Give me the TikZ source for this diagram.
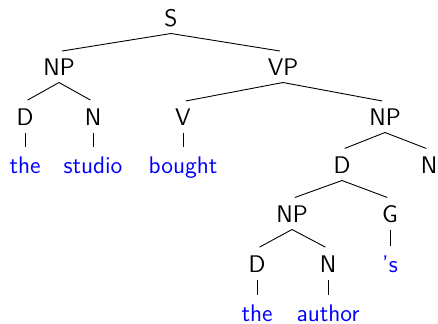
\documentclass[tikz,border=0pt]{standalone}
\begin{document}
\begin{tikzpicture}[x=0.5pt,y=-0.5pt,
  every node/.style={font=\fontsize{12}{14}\selectfont\sffamily, text height=8.3pt, text depth=0pt, inner xsep=1pt, inner ysep=3.4pt},
  cat/.style={text=black},
  word/.style={text=blue},
  edge/.style={draw=black, line width=0.45pt, shorten >=1.5pt}]
\useasboundingbox (0,0) rectangle (438,323);
% categories
\node[cat] (S) at (171,18) {S};
\node[cat] (NPa) at (59,67) {NP};
\node[cat] (VP) at (283,67) {VP};
\node[cat] (Da) at (25,117) {D};
\node[cat] (Na) at (93,117) {N};
\node[cat] (V) at (183,117) {V};
\node[cat] (NPb) at (385,117) {NP};
\node[cat] (Db) at (342,165) {D};
\node[cat] (Nb) at (429,165) {N};
\node[cat] (NPc) at (292,214) {NP};
\node[cat] (G) at (390,214) {G};
\node[cat] (Dc) at (257,264) {D};
\node[cat] (Nc) at (328,264) {N};
% words
\node[word] (the1) at (25,165) {the};
\node[word] (studio) at (93,165) {studio};
\node[word] (bought) at (183,165) {bought};
\node[word] (poss) at (390,264) {'s};
\node[word] (the2) at (257,313) {the};
\node[word] (author) at (328,313) {author};
% edges
\draw[edge] (S.south) -- (NPa.north);
\draw[edge] (S.south) -- (VP.north);
\draw[edge] (NPa.south) -- (Da.north);
\draw[edge] (NPa.south) -- (Na.north);
\draw[edge] (VP.south) -- (V.north);
\draw[edge] (VP.south) -- (NPb.north);
\draw[edge] (Da.south) -- (the1.north);
\draw[edge] (Na.south) -- (studio.north);
\draw[edge] (V.south) -- (bought.north);
\draw[edge] (NPb.south) -- (Db.north);
\draw[edge] (NPb.south) -- (Nb.north);
\draw[edge] (Db.south) -- (NPc.north);
\draw[edge] (Db.south) -- (G.north);
\draw[edge] (NPc.south) -- (Dc.north);
\draw[edge] (NPc.south) -- (Nc.north);
\draw[edge] (G.south) -- (poss.north);
\draw[edge] (Dc.south) -- (the2.north);
\draw[edge] (Nc.south) -- (author.north);
\end{tikzpicture}
\end{document}
